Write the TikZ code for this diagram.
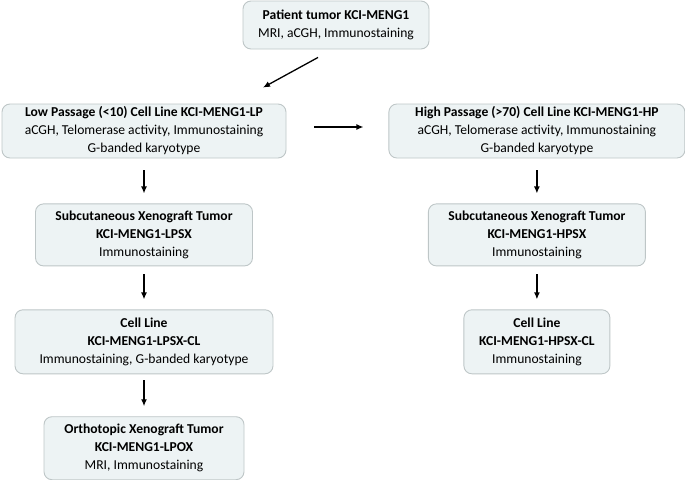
\documentclass[tikz,border=0pt]{standalone}
\usepackage{fontspec}
\setmainfont{Carlito}
\usepackage{tikz}
\usetikzlibrary{arrows.meta,positioning}
\definecolor{boxfill}{HTML}{EDF3F4}
\definecolor{boxline}{HTML}{BEC6C7}
\tikzset{
    mynode/.style={rectangle,rounded corners=8pt,draw=boxline,fill=boxfill,line width=0.9pt, inner xsep=2pt, inner ysep=2pt, align=center, font=\fontsize{13.6}{18}\selectfont},
    pil/.style={-{Latex[length=7pt,width=6pt]}, line width=1.3pt}
}
\begin{document}
\begin{tikzpicture}[x=1pt, y=1pt]
    \useasboundingbox (0,0) rectangle (685,-479);
    \node[mynode, minimum width=186pt, minimum height=48pt] (patient) at (336,-25)
      {\textbf{Patient tumor KCI-MENG1}\\
      MRI, aCGH, Immunostaining};
    \node[mynode, minimum width=284pt, minimum height=54pt] (lowp) at (144,-131)
      {\textbf{Low Passage (<10) Cell Line KCI-MENG1-LP}\\
      aCGH, Telomerase activity, Immunostaining\\
      G-banded karyotype};
    \node[mynode, minimum width=296pt, minimum height=54pt, right=102pt of lowp] (highp)
      {\textbf{High Passage (>70) Cell Line KCI-MENG1-HP}\\
      aCGH, Telomerase activity, Immunostaining\\
      G-banded karyotype};
    \node[mynode, minimum width=217pt, minimum height=62pt, below=45pt of lowp] (lowsx)
      {\textbf{Subcutaneous Xenograft Tumor}\\
      \textbf{KCI-MENG1-LPSX}\\
      Immunostaining};
    \node[mynode, minimum width=217pt, minimum height=62pt, below=45pt of highp] (highsx)
      {\textbf{Subcutaneous Xenograft Tumor}\\
      \textbf{KCI-MENG1-HPSX}\\
      Immunostaining};
    \node[mynode, minimum width=258pt, minimum height=64pt, below=43pt of lowsx] (lowcl)
      {\textbf{Cell Line}\\
      \textbf{KCI-MENG1-LPSX-CL}\\
      Immunostaining, G-banded karyotype};
    \node[mynode, minimum width=146pt, minimum height=64pt, below=43pt of highsx] (highcl)
      {\textbf{Cell Line}\\
      \textbf{KCI-MENG1-HPSX-CL}\\
      Immunostaining};
    \node[mynode, minimum width=200pt, minimum height=63pt, below=42pt of lowcl] (lowox)
      {\textbf{Orthotopic Xenograft Tumor}\\
      \textbf{KCI-MENG1-LPOX}\\
      MRI, Immunostaining};

    \draw[pil] ([xshift=-18pt,yshift=-8pt]patient.south) -- ([xshift=119pt,yshift=16pt]lowp.north);
    \draw[pil, shorten <=28pt, shorten >=25pt] ([yshift=4pt]lowp.east) -- ([yshift=4pt]highp.west);
    \draw[pil, shorten <=12pt, shorten >=10pt] (lowp) -- (lowsx);
    \draw[pil, shorten <=8pt, shorten >=10pt] (lowsx) -- (lowcl);
    \draw[pil, shorten <=6pt, shorten >=10pt] (lowcl) -- (lowox);
    \draw[pil, shorten <=12pt, shorten >=10pt] (highp.south -| highsx) -- (highsx);
    \draw[pil, shorten <=8pt, shorten >=10pt] (highsx) -- (highcl);
\end{tikzpicture}
\end{document}
